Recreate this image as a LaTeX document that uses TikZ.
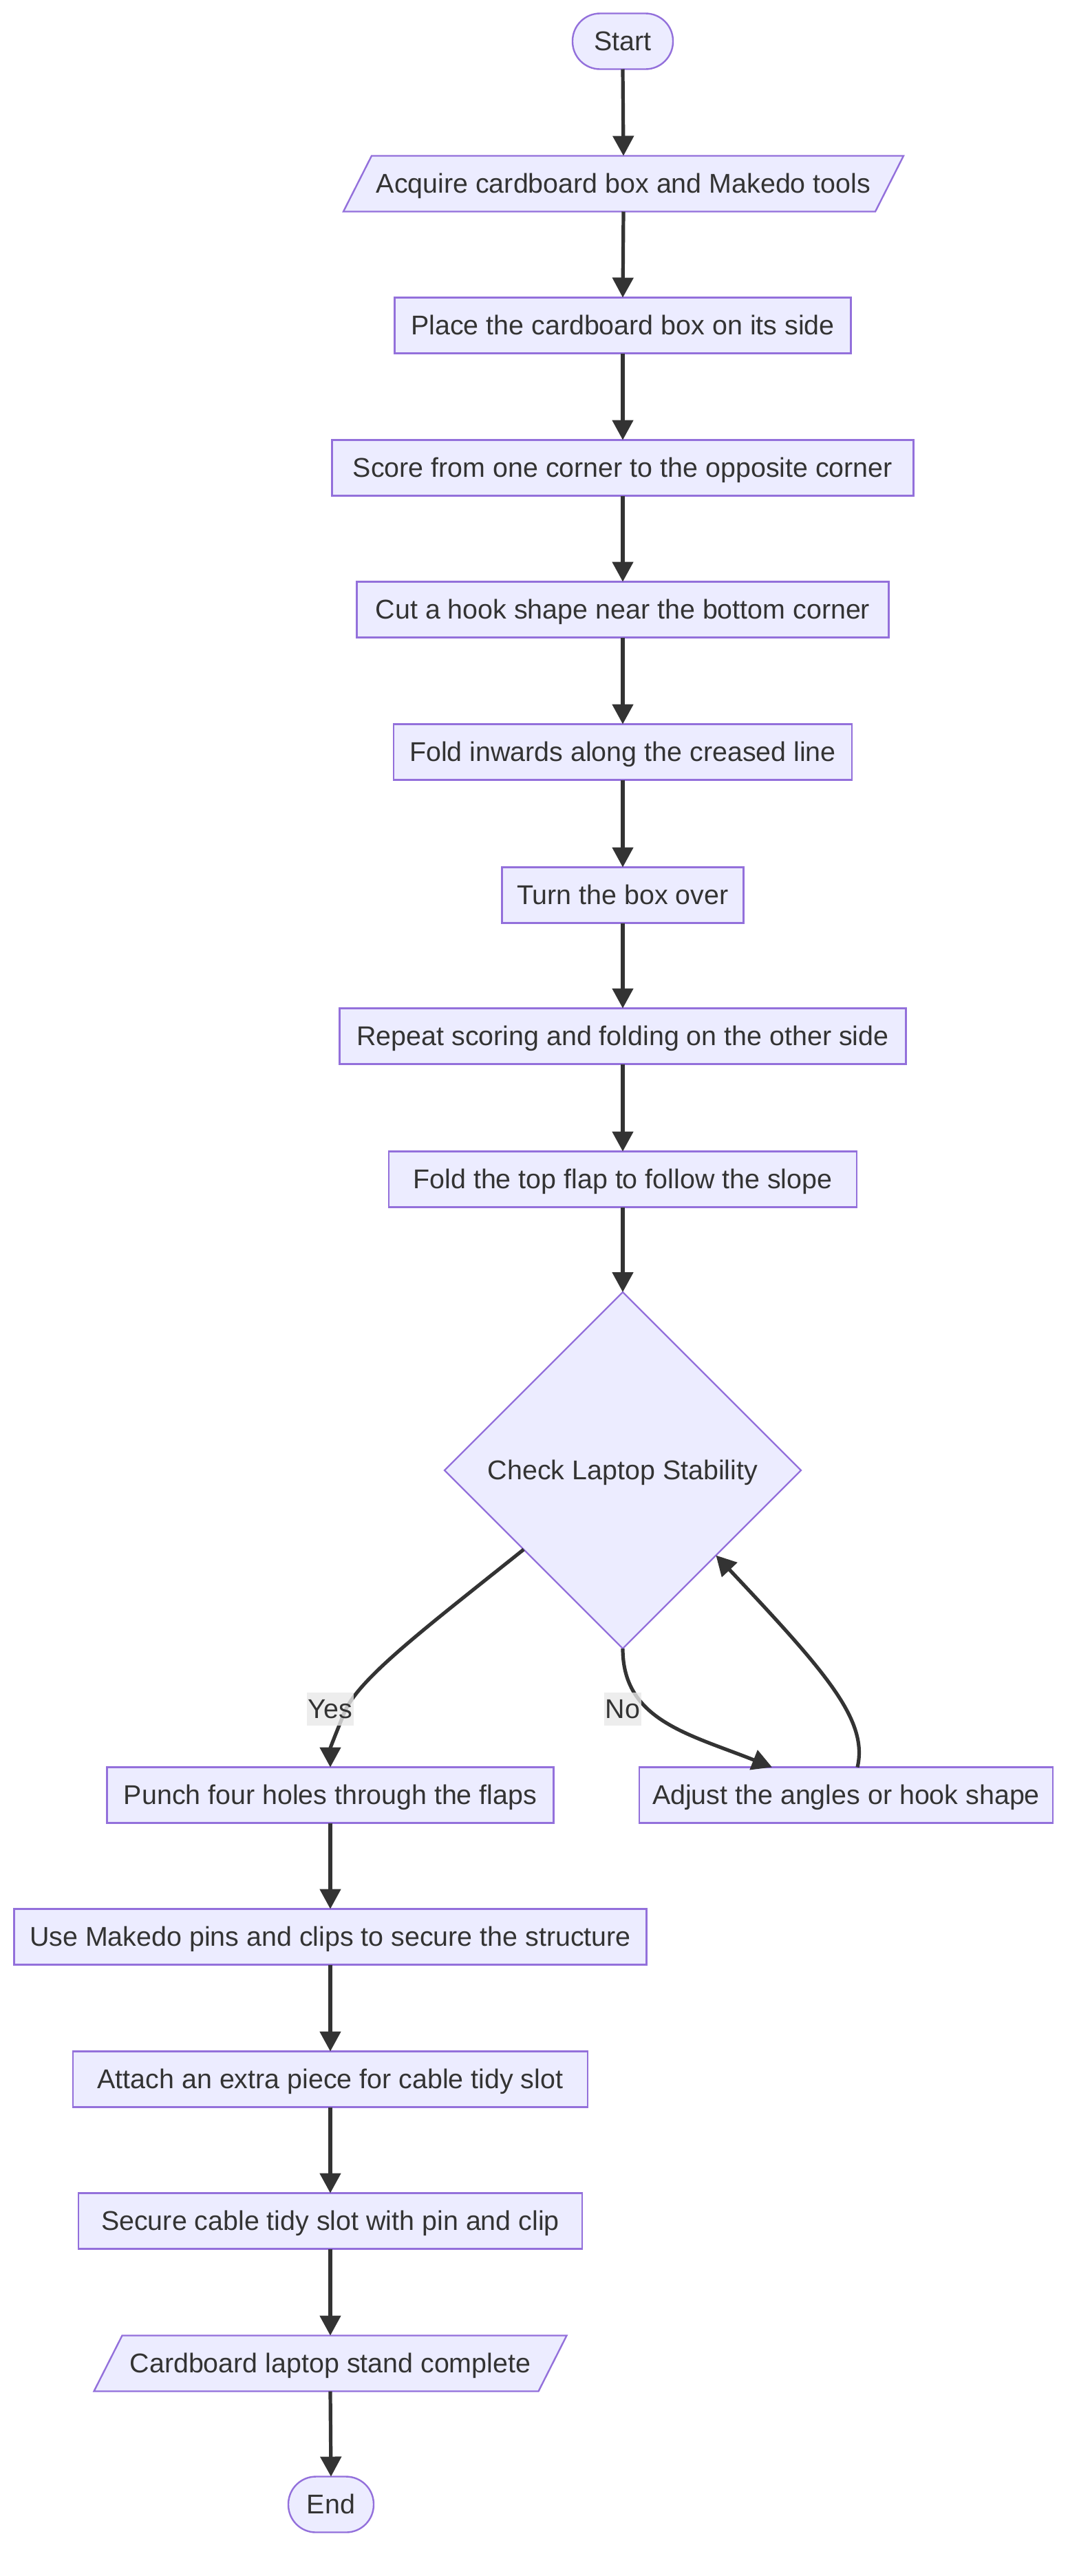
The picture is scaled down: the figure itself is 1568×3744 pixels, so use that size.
\documentclass[tikz,border=0pt]{standalone}
\usepackage{fontspec}
\setmainfont{Liberation Sans}
\usetikzlibrary{shapes.geometric,arrows.meta,calc,backgrounds}
\definecolor{nodefill}{HTML}{ECECFF}
\definecolor{nodeline}{HTML}{9370DB}
\definecolor{edgecol}{HTML}{333333}
\definecolor{textcol}{HTML}{333333}
\definecolor{labelbg}{HTML}{E8E8E8}
\tikzset{
  basefont/.style={font=\fontsize{19.7pt}{23pt}\selectfont, text=textcol,
    text height=17.8pt, text depth=4.2pt},
  procbox/.style={basefont, rectangle, draw=nodeline, fill=nodefill, line width=1.2pt,
    minimum height=40.5pt, inner xsep=2pt, inner ysep=0pt, outer sep=0pt},
  termbox/.style={procbox, rounded corners=20pt},
  parabox/.style={basefont, rectangle, draw=none, fill=none, minimum height=40.5pt,
    inner xsep=2pt, inner ysep=0pt, outer sep=0pt},
  paraline/.style={draw=nodeline, fill=nodefill, line width=1.2pt},
  decbox/.style={basefont, diamond, draw=nodeline, fill=nodefill, line width=1.2pt,
    minimum width=259pt, minimum height=259pt, inner sep=0pt, outer sep=0pt},
  edge/.style={draw=edgecol, line width=2.6pt, -{Triangle[length=14.5pt,width=15pt]}},
  elabel/.style={basefont, fill=labelbg, fill opacity=0.8, text opacity=1, inner xsep=1pt, inner ysep=1pt}
}
\begin{document}
\begin{tikzpicture}[x=0.5pt,y=-0.5pt]
\useasboundingbox (0,0) rectangle (1568,3744);
% main column
\node[termbox, minimum width=73pt] (start) at (905,60) {Start};
\node[parabox, minimum width=407pt] (acq) at (906,267) {Acquire cardboard box and Makedo tools};
\node[procbox, minimum width=331.5pt] (place) at (905,473) {Place the cardboard box on its side};
\node[procbox, minimum width=422.5pt] (score) at (905,680) {Score from one corner to the opposite corner};
\node[procbox, minimum width=386.5pt] (cut) at (905,886) {Cut a hook shape near the bottom corner};
\node[procbox, minimum width=333pt] (foldin) at (905,1093) {Fold inwards along the creased line};
\node[procbox, minimum width=175.5pt] (turn) at (905,1301) {Turn the box over};
\node[procbox, minimum width=411.5pt] (repeat) at (905,1506) {Repeat scoring and folding on the other side};
\node[procbox, minimum width=340pt] (foldtop) at (905,1714) {Fold the top flap to follow the slope};
\node[decbox] (check) at (905,2137) {Check Laptop Stability};
% branches
\node[procbox, minimum width=324.5pt] (punch) at (480,2609) {Punch four holes through the flaps};
\node[procbox, minimum width=300.5pt] (adjust) at (1229.5,2609) {Adjust the angles or hook shape};
\node[procbox, minimum width=459.5pt] (use) at (480,2815) {Use Makedo pins and clips to secure the structure};
\node[procbox, minimum width=374pt] (attach) at (480,3022) {Attach an extra piece for cable tidy slot};
\node[procbox, minimum width=366pt] (secure) at (480,3228) {Secure cable tidy slot with pin and clip};
\node[parabox, minimum width=343.5pt] (done) at (480,3435) {Cardboard laptop stand complete};
\node[termbox, minimum width=62pt] (end) at (481,3640) {End};
% parallelogram outlines
\begin{scope}[on background layer]
\path[paraline] ([xshift=20.5pt]acq.north west) -- (acq.north east) -- ([xshift=-20.5pt]acq.south east) -- (acq.south west) -- cycle;
\path[paraline] ([xshift=20.5pt]done.north west) -- (done.north east) -- ([xshift=-20.5pt]done.south east) -- (done.south west) -- cycle;
\end{scope}
% edges
\draw[edge] (start.south) -- (acq.north);
\draw[edge] (acq.south) -- (place.north);
\draw[edge] (place.south) -- (score.north);
\draw[edge] (score.south) -- (cut.north);
\draw[edge] (cut.south) -- (foldin.north);
\draw[edge] (foldin.south) -- (turn.north);
\draw[edge] (turn.south) -- (repeat.north);
\draw[edge] (repeat.south) -- (foldtop.north);
\draw[edge] (foldtop.south) -- (check.north);
\draw[edge] ($(check.west)!0.444!(check.south)$) .. controls (620,2365) and (520,2440) .. (500,2490) .. controls (486,2525) and (480,2540) .. (punch.north);
\draw[edge] (check.south) .. controls (905,2500) and (1000,2520) .. ($(adjust.north west)+(193,0)$);
\draw[edge] ($(adjust.north west)+(317,0)$) .. controls (1262,2500) and (1200,2430) .. ($(check.east)!0.477!(check.south)$);
\draw[edge] (punch.south) -- (use.north);
\draw[edge] (use.south) -- (attach.north);
\draw[edge] (attach.south) -- (secure.north);
\draw[edge] (secure.south) -- (done.north);
\draw[edge] (done.south) -- (end.north);
% edge labels
\node[elabel] (yes) at (480,2484) {Yes};
\node[elabel] (no) at (905,2484) {No};
\end{tikzpicture}
\end{document}
